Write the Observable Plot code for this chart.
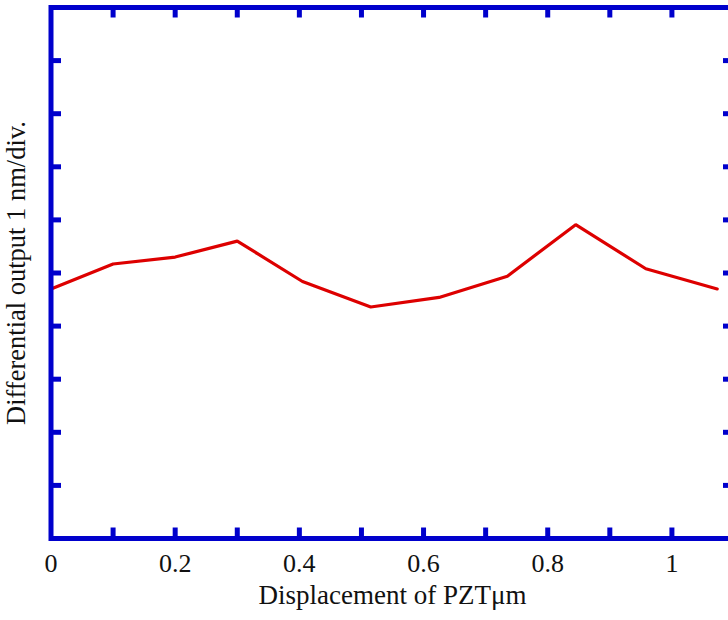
<!DOCTYPE html>
<html>
<head>
<meta charset="utf-8">
<script src="https://cdn.jsdelivr.net/npm/d3@7"></script>
<script src="https://cdn.jsdelivr.net/npm/@observablehq/plot@0.6"></script>
<style>
  html, body { margin: 0; padding: 0; background: #fff; overflow: hidden; }
  #chart { width: 728px; height: 620px; overflow: hidden; }
  #chart svg { max-width: none !important; height: 620px !important; }
</style>
</head>
<body>
<div id="chart"></div>
<script>
// Measured differential output (nm) against PZT displacement (µm)
const displacement = [0, 0.1, 0.2, 0.3, 0.405, 0.515, 0.625, 0.735, 0.845, 0.958, 1.073];
const output = [4.70, 5.17, 5.30, 5.60, 4.84, 4.36, 4.54, 4.94, 5.91, 5.08, 4.70];

// Tick positions
const xMinorTicks = [0.1, 0.2, 0.3, 0.4, 0.5, 0.6, 0.7, 0.8, 0.9, 1.0];
const xLabelTicks = [0, 0.2, 0.4, 0.6, 0.8, 1];
const yTicks = [1, 2, 3, 4, 5, 6, 7, 8, 9];

const xTitle = "Displacement of PZTμm";
const yTitle = "Differential output 1 nm/div.";

const data = displacement.map((x, i) => ({x, y: output[i]}));

const blue = "#0000cc";
const red = "#dd0000";
const W = 740, H = 620;
const mt = 7, mb = 82, ml = 50.5, mr = 6.5;
const innerW = W - ml - mr, innerH = H - mt - mb;
const tickLen = 10.5;

const chart = Plot.plot({
  width: W,
  height: H,
  marginTop: mt,
  marginBottom: mb,
  marginLeft: ml,
  marginRight: mr,
  style: {fontFamily: "'Liberation Serif', 'Times New Roman', serif", fontSize: "26px", color: "#111", background: "#fff"},
  x: {domain: [0, 1.1]},
  y: {domain: [0, 10]},
  marks: [
    Plot.line(data, {x: "x", y: "y", stroke: red, strokeWidth: 3.2, strokeLinejoin: "miter"}),
    // inward ticks on all four sides
    Plot.ruleX(xMinorTicks, {x: d => d, stroke: blue, strokeWidth: 5, insetBottom: innerH - tickLen}),
    Plot.ruleX(xMinorTicks, {x: d => d, stroke: blue, strokeWidth: 5, insetTop: innerH - tickLen}),
    Plot.ruleY(yTicks, {y: d => d, stroke: blue, strokeWidth: 5, insetRight: innerW - tickLen}),
    Plot.ruleY(yTicks, {y: d => d, stroke: blue, strokeWidth: 5, insetLeft: innerW - tickLen}),
    Plot.frame({stroke: blue, strokeWidth: 5}),
    Plot.axisX(xLabelTicks, {anchor: "bottom", tickSize: 0, tickPadding: 15, tickFormat: d => String(d), fontSize: 26, label: null}),
    Plot.axisY({ticks: [], label: null, tickSize: 0}),
    Plot.text([xTitle], {frameAnchor: "bottom", dy: 65.5, fontSize: 27, fill: "#111"}),
    Plot.text([yTitle], {frameAnchor: "left", textAnchor: "middle", dx: -34, rotate: -90, fontSize: 26.5, fill: "#111"})
  ]
});

document.getElementById("chart").appendChild(chart);
</script>
</body>
</html>
